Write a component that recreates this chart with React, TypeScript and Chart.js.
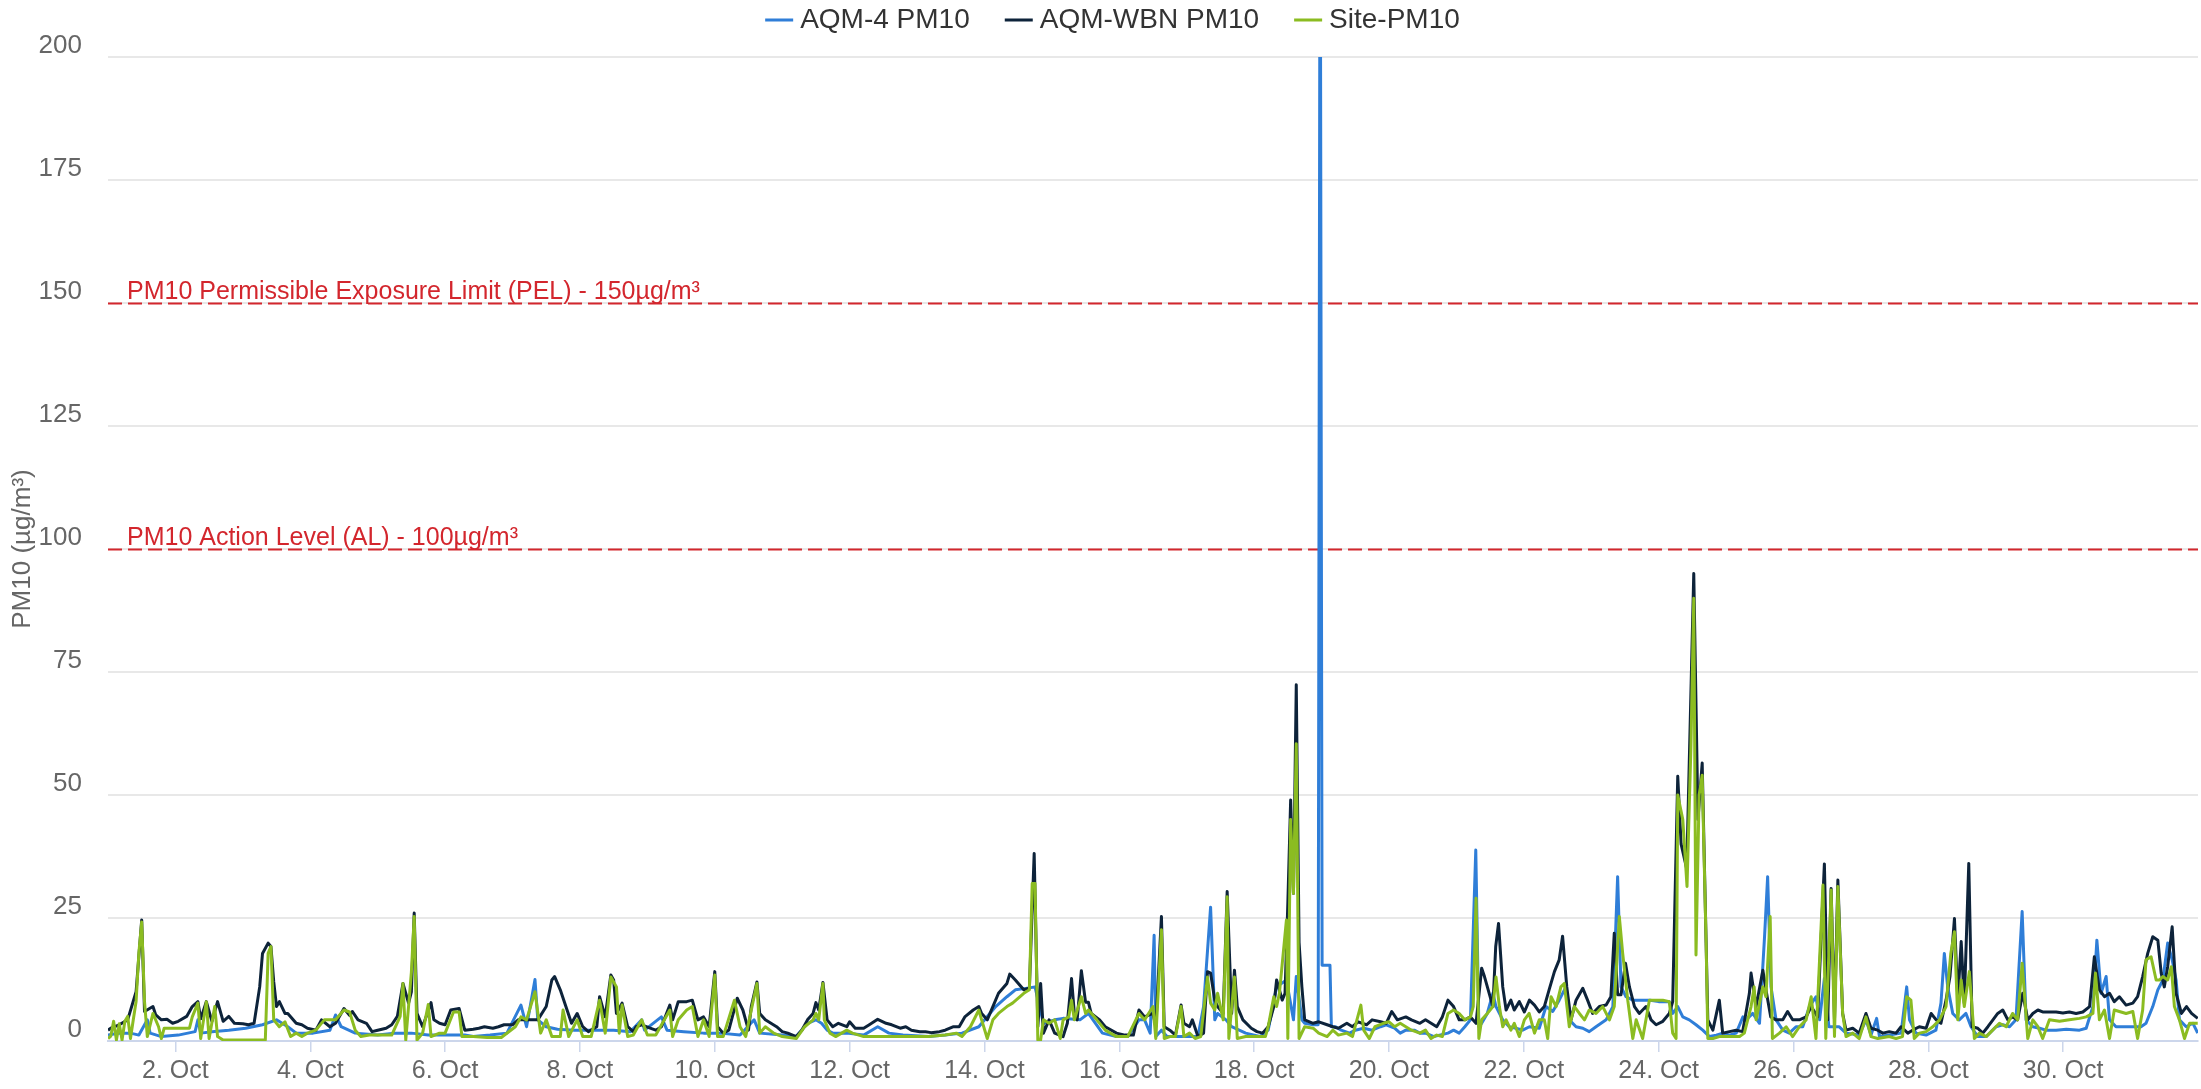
import React, { useEffect, useRef } from 'react';
import { Chart, registerables } from 'chart.js';

Chart.register(...registerables);

const seriesNames = ['AQM-4 PM10', 'AQM-WBN PM10', 'Site-PM10'];
const seriesColors = ['#2f7ed8', '#0d233a', '#8bbc21'];

// [hour since 1 Oct 00:00, PM10 µg/m³]
const aqm4Points: [number, number][] = [
  [0,1.2],[4,1.6],[8,1.6],[11,1.2],[14,4.3],[15,1.6],[19,0.9],[25,1.2],[31,1.9],[32,4.3],[33,1.6],[37,1.9],[43,2.2],[49,2.6],[55,3.3],[60,4.3],[64,2.9],[67,1.6],[73,1.6],[79,2.2],[81,5.3],[83,2.9],[88,1.6],[96,1.2],[102,1.6],[108,1.6],[114,1.2],
  [120,1.2],[127,1.2],[130,0.9],[136,1.2],[142,1.6],[147,7.3],[149,2.9],[152,12.5],[153,4.3],[156,2.9],[160,2.4],[166,2.2],[172,2.2],[180,2.2],[186,1.9],[190,4.3],[191,2.2],[197,4.9],[199,2.2],[205,1.9],[212,1.6],[218,1.6],[225,1.2],[230,4.3],[232,1.6],[240,1.2],
  [245,0.9],[249,3.6],[252,4.3],[254,3.6],[256,2.2],[258,1.6],[263,1.6],[269,1.2],[274,2.9],[278,1.6],[283,1.2],[292,0.9],[298,1.2],[304,1.6],[310,2.9],[316,7],[320,9],[323,10.4],[328,10.8],[330,11],[333,3.6],[337,4.3],[340,4.6],[346,4.3],[349,5.6],[354,1.6],[359,0.9],[363,0.9],[367,4.3],
  [369,4.3],[371,1.6],[372.4,21.5],[373,0.9],[375,2.2],[377,0.9],[381,0.9],[385,0.9],[388,0.9],[390,7],[392.5,27.2],[394,4.3],[395,5.6],[398,4.3],[400,2.9],[405,1.6],[410,0.9],[413,2.2],[416,11],[419.5,12.4],[422,4.3],[423,13.1],[425,4.3],[426,3.6],[429,3.3],[430.8,3.3],[431.5,250],[432.2,15.4],[435,15.4],[435.5,2.9],[437,2.9],[439,2.2],[442,1.6],[444,2.2],[447,2.6],[450,2.2],[453,2.9],[455,3.3],[458,2.6],[460,1.6],[462,2.2],[465,2.2],[467,1.6],[469,1.6],[472,0.9],[474,1.2],[477,1.6],[479,2.2],[481,1.6],[483,2.9],[485,4.3],[486.9,38.8],[488,2.9],[489,3.6],[491,5.6],[493,9.7],
  [494.1,7],[496.5,4.3],[498.8,2.9],[501.2,2.6],[503.6,2.2],[506,2.9],[509.5,2.6],[511.9,7],[514.3,6],[516.6,8.3],[519,11],[520.2,4.3],[522.6,2.9],[525,2.6],[527.3,1.9],[529.7,2.9],[533.3,4.3],[535.7,7],[537.4,33.4],[538.6,11],[540.4,9],[542.8,8.3],[546.3,8.3],[549,8.3],[552,8],[555.8,8],[557,5.6],[558.8,7],[560.6,4.9],[562.9,4.3],[565.3,3.3],[567.7,2.2],[570.1,0.9],[572.5,1.2],[574.8,1.6],[577.2,1.2],[579.6,1.6],[582,4.9],[583.1,4.3],[585.5,5.6],[587.9,3.6],[589.7,21.2],[590.8,33.4],[592,11],[593.8,4.3],[596.2,2.2],[598.5,1.6],[600.9,2.9],[603.3,2.9],[605.7,7],[608,9],[609.3,4.3],[611,12.7],[612.6,2.9],[616.2,2.9],
  [618.7,1.6],[623.4,1.2],[625.8,4.3],[627.6,1.2],[629.6,4.6],[630.6,0.9],[634.1,1.2],[638.3,1.6],[640.3,11],[641.3,4.3],[643.6,1.6],[647.2,1.2],[650.7,2.2],[652.5,7.7],[653.7,17.8],[654.9,11],[656.7,5.6],[659,4.3],[661.4,5.6],[663.2,2.9],[665.6,0.9],[668.6,0.9],[672.1,2.9],[674.5,3.3],[676.9,2.9],[679.2,4.3],[681.4,26.3],[682.8,4.3],[685.2,2.9],[687.6,2.6],[689.9,2.2],[693.5,2.2],[697.1,2.4],[701.8,2.2],[704.2,2.6],[706.6,7],[708,20.5],[709.5,9.7],[711.3,13.1],[712.5,4.3],[714.8,2.9],[719.6,2.9],[723.7,2.9],[725.5,3.6],[727.9,7],[729.7,10.4],[731.5,12.4],[733.2,19.9],[734.8,16.5],[736.2,12.4],[737.4,4.3],[739.8,2.9],[742.2,3.6],[743.9,1.6],
];

const wbnPoints: [number, number][] = [
  [0,2.2],[1,2.6],[4,3.3],[7,4.3],[10,10],[12,24.6],[13,6],[16,7],[17,5.3],[19,4.3],[21,4.4],[23,3.6],[25,4],[28,5],[30,7],[32,8],[33,4.5],[35,8],[37,4],[39,8],[41,4],[43,5],[45,3.6],[48,3.5],[50,3.3],[52,3.6],[54,11],[55,17.8],[57,19.9],[58,19.2],[59,12],[60,7],[61,8],[63,5.6],[64,5.6],[67,3.6],[69,3.3],[71,2.6],[74,2.2],[76,4.3],[79,2.9],[81,3.6],[84,6.6],[86,5.2],[87,6],[89,4.3],[92,3.6],[94,1.9],[96,2.2],[99,2.6],[101,3.3],[103,5],[105,11.7],[107,7.7],[108,10],[109,26],[110,5.6],[112,2.9],[115,7.8],[116,4.3],[118,3.6],
  [120,3.3],[122,6.3],[125,6.6],[127,2.2],[130,2.4],[132,2.6],[134,2.9],[137,2.6],[139,2.9],[141,3.3],[144,3.3],[146,4.3],[149,4.3],[151,4.3],[153,4.3],[156,7],[158,12.4],[159,13.1],[161,10.4],[163,7],[165,3.6],[167,5.6],[169,2.9],[171,1.9],[174,2.9],[175,9],[177,4.9],[179,13.4],[180,12.4],[181,5.6],[183,7.7],[185,2.9],[187,1.9],[188,2.9],[190,3.3],[193,2.6],[195,2.2],[197,2.9],[200,7.3],[201,4.3],[203,8],[206,8],[208,8.3],[210,4.3],[212,4.9],[214,2.9],[216,14.1],[217,2.9],[219,1.6],[221,2.2],[224,8.7],[226,6.3],[228,2.2],[229,7],[231,12],[232,5.6],[234,4.3],[238,2.9],[240,1.9],[242,1.6],
  [245,0.9],[247,2.2],[249,4.3],[251,5.6],[252,7.8],[253,6.3],[254.5,11.9],[256,4.3],[258,2.9],[260,3.6],[263,2.9],[264,3.9],[266,2.6],[269,2.6],[271,3.3],[274,4.4],[277,3.6],[279,3.3],[282,2.6],[284,2.9],[286,2.2],[289,1.9],[291,1.9],[293,1.7],[296,1.9],[298,2.2],[301,2.9],[303,2.9],[305,4.9],[308,6.3],[310,7],[311,5.6],[313,4.3],[315,7],[317,9.7],[320,11.7],[321,13.6],[323,12.4],[326,10.4],[328,10.8],[329.7,38.1],[331,2.9],[332,11.7],[333,1.6],[335,4.3],[337,1.6],[340,0.9],[341.5,3.6],[343,12.7],[344,5.6],[345,4.3],[346.5,14.3],[348,7.9],[349,7.9],[350,5.6],[353,4.3],[355,2.9],[359,1.6],[362,1.2],[365,1.2],[367,6.3],
  [369,4.9],[372,5.6],[373,2.9],[375,25.3],[376,2.9],[378,2.2],[380,1.2],[382,7.3],[383,3.6],[385,2.9],[386,4.3],[388,0.9],[390,1.6],[391.4,14.1],[392.5,13.8],[394,8.3],[395,7],[397,5.6],[398.4,30.4],[400,5.6],[401,14.4],[402,7],[404,4.3],[407,2.6],[409,1.9],[411,1.6],[413,2.9],[415,7],[416,12.4],[418,8.3],[419,9.7],[420,28],[421,49],[422,30],[423,72.4],[424,20],[425,11],[426,4.3],[429,3.6],[431,3.9],[434,3.3],[436,2.9],[438,2.6],[441,3.6],[443,2.9],[445,3.9],[448,3.3],[450,4.3],[453,3.9],[455,3.6],[457,6],[459,4.3],[462,4.9],[464,4.3],[467,3.6],[469,4.3],[471,3.6],[473,2.9],[475,4.9],[477,8.3],[479,7],[481,4.3],[483,4.3],[485,4.9],[487,3.6],[489,14.8],[490,13.1],[493,7],[494,19.2],[495,23.9],
  [496.5,11],[497.7,6.3],[499.4,8.3],[500.6,6.3],[502.4,8],[504.2,5.9],[506,8.3],[507.8,7.3],[509.5,5.9],[511.3,7],[513,10.4],[514.9,14.1],[516.6,16.5],[517.8,21.3],[519.3,11],[520.8,4.3],[522.6,8.3],[525,10.7],[526.7,8.3],[528.5,5.6],[530.9,7],[533.3,7.3],[535,9],[536.2,21.9],[537.4,9.4],[538.6,9.4],[540.2,15.8],[541.6,11],[543.4,7],[545.1,5.6],[547.5,7],[549.3,4.3],[551.1,3.3],[553.5,4],[555.8,5.6],[557,8],[558.8,53.8],[560,40],[562,35],[564.5,95],[566,45],[567.5,56.5],[568.9,20],[569.5,4.3],[571.3,2.2],[573.6,8.3],[574.8,1.6],[577.2,1.9],[579.6,2.2],[581.9,1.9],[584.3,9.7],[584.9,13.8],[586.7,7],[589.1,14.4],[590.2,10.4],[591.9,4.9],[593.8,4.3],[596.2,4.3],[597.9,6],[599.7,4.3],[602.1,4.3],[604.5,4.9],[606.3,7],[608.6,4.9],[611,36],[612.2,4.3],[613.4,31],[614.6,4.3],[615.8,32.7],[617.5,5.6],
  [618.7,2.2],[621.1,2.6],[623.4,1.6],[625.8,5.6],[627.6,2.6],[630,2.2],[631.8,1.6],[634.1,1.9],[636.5,1.6],[638.3,2.9],[640.7,1.6],[642.4,2.2],[644.8,2.9],[647.2,2.6],[649,5.6],[650.8,4.3],[652.5,3.6],[654.3,8.3],[655.7,13.1],[657.3,24.9],[658.5,8.3],[659.7,20.2],[660.8,7.7],[662.4,36.1],[663.6,2.9],[665.6,2.6],[667.4,1.6],[669.2,2.9],[671,4.3],[672.7,5.6],[674.5,6.3],[676.3,4.3],[678,4.9],[679.8,4.3],[681.6,9.7],[683.4,4.3],[685.2,5.6],[687,6.3],[688.7,5.9],[691.1,5.9],[693.5,5.9],[695.9,5.7],[698.2,5.9],[700.6,5.6],[703,5.9],[705.4,7],[707.1,17.1],[708.9,10.4],[710.7,9],[712.5,9.7],[714.2,8],[716,9],[718.4,7.3],[720.8,7.7],[722.5,9],[724.3,13.1],[726.1,17.8],[727.9,21.2],[729.7,20.5],[730.9,13.8],[732,11],[733.2,15.1],[734.8,23.2],[736.2,9.7],[738.1,5.6],[739.9,7],[741.7,5.6],[743.9,4.6],
];

const sitePoints: [number, number][] = [
  [0,0.5],[1,1],[2,4],[3,0.2],[4,3.5],[5,0.2],[6,4],[7,5],[8,0.5],[9,4.3],[10,8],[11,18],[12,24.2],[13,8],[14,0.9],[16,5.6],[18,2.9],[19,0.5],[20,2.6],[23,2.6],[26,2.6],[29,2.6],[30,4.9],[32,7.7],[33,0.5],[35,8],[36,0.5],[38,7],[39,0.9],[41,0.2],[45,0.2],[50,0.2],[56,0.2],[57,17.8],[58,19.2],[59,4.3],[61,2.9],[63,3.9],[65,0.9],[67,1.6],[69,0.9],[71,1.6],[74,2.2],[77,4.3],[81,4.3],[84,6.3],[86,5.9],[88,2.2],[90,0.9],[93,1.2],[97,1.2],[101,1.2],[104,5],[105,11.7],[106,0.2],[108,14],[109,25.3],[110,0.2],[112,1.6],[114,7.4],[115,0.9],[118,1.6],
  [120,1.6],[123,5.9],[125,5.9],[126,0.9],[130,0.9],[135,0.7],[140,0.7],[145,2.9],[147,4.9],[149,4.3],[152,10],[154,1.6],[156,4.3],[158,0.9],[161,0.9],[162,6.3],[164,0.9],[167,4.3],[169,0.9],[172,0.9],[175,8.3],[177,1.6],[179,13],[181,11],[182,1.6],[183,7.3],[185,0.9],[187,1.2],[190,4.3],[192,1.2],[195,1.2],[200,6.3],[201,0.9],[203,4.3],[206,6.3],[208,7],[210,0.9],[212,4.3],[214,0.9],[216,13.4],[217,0.9],[219,0.9],[223,8.3],[225,2.9],[227,0.9],[231,11.7],[232,1.6],[234,2.9],[237,1.6],[240,0.9],
  [245,0.5],[248,2.9],[251,4.3],[252,5.6],[253,4.3],[254.5,11.7],[255,4.3],[257,1.6],[259,0.9],[263,2.2],[265,1.6],[269,0.9],[275,0.9],[281,0.9],[286,0.9],[292,0.9],[298,1.2],[302,1.6],[304,0.9],[307,2.9],[310,6.3],[311,4.3],[313,0.5],[315,4.3],[317,5.6],[320,7],[322,7.7],[326,9.7],[328,10.4],[329,32],[330,32],[331,0.2],[332,0.2],[333,4.3],[335,3.6],[337,4.3],[339,0.5],[340,4.3],[342,4.9],[343,8.3],[344,4.3],[346.5,9],[348,5.6],[349,6.3],[352,4.3],[355,2.2],[359,0.9],[363,0.9],[367,5.6],
  [369,4.3],[372,7],[373,0.5],[375,22.6],[376,0.5],[378,0.9],[380,0.9],[382,7],[383,0.9],[385,1.6],[387,0.5],[389,0.9],[391.4,13],[392.5,7.7],[394,6.3],[395,9.7],[397,4.3],[398.4,29.3],[399,0.5],[401,13],[402,0.5],[405,0.9],[409,0.9],[412,0.9],[413,2.9],[415,9],[416,7],[417,9.7],[419.5,24.6],[420,0.5],[421,45],[422,30],[423,60.4],[424,0.5],[426,2.9],[429,2.6],[431,1.6],[434,0.9],[436,2.2],[438,1.2],[441,1.6],[443,0.9],[446,7.3],[447,2.2],[449,0.5],[451,2.9],[454,3.6],[456,3.9],[458,2.9],[460,3.6],[462,2.9],[464,2.2],[467,1.6],[469,2.2],[471,0.5],[473,1.2],[475,0.9],[477,5.6],[479,6.3],[481,5.6],[483,4.3],[485,4.9],[486,7],[487,29],[488,0.5],[489,4.3],[491,5.6],[493,7],
  [494.1,13],[495.3,7],[496.5,2.9],[497.7,4.3],[499.4,2.2],[500.6,3.6],[502.4,0.9],[504.2,4.3],[505.9,5.6],[507.8,1.6],[509.5,4.3],[511.3,4.3],[512.5,0.5],[513.7,9],[515.5,7],[517.2,11],[518.4,11.7],[520.2,2.9],[522,7],[523.8,5.6],[525.6,4.3],[527.3,6.3],[529.7,5.6],[532.1,7],[534.5,4.3],[536.2,7],[538,25.3],[539.2,17.8],[541,8.3],[542.8,0.5],[544,4.3],[546.3,0.5],[548.7,8.3],[551.1,8.3],[553.5,8.3],[555.8,8],[557,1.6],[558.2,0.5],[558.8,50],[560.6,45],[562.1,31.4],[563.5,60],[564.5,90],[565.3,17.5],[566.4,50],[567.5,54],[568.9,20],[569.5,0.5],[571.3,0.5],[573.6,0.9],[576,0.9],[578.4,0.9],[580.8,0.9],[582.5,1.6],[584.9,7],[586,11],[586.7,4.3],[589.1,11],[590.2,9],[591.7,25.3],[592.5,0.5],[595,1.6],[597.4,2.9],[599.7,0.9],[602.1,2.9],[604.5,4.3],[606.3,9],[608,0.5],[610.5,31.7],[611.5,0.5],[613.4,30.7],[614.6,0.9],[615.8,31.4],[617.5,5.6],
  [618.7,0.9],[621.1,1.6],[623.4,0.5],[625.8,4.9],[627.6,0.9],[630,0.5],[634.1,0.9],[636.5,0.5],[638.8,0.9],[640.3,9],[641.8,8.3],[643,0.5],[644.8,1.6],[647.2,1.9],[649.6,2.9],[652,4.3],[654.3,7],[656,17.8],[657.3,22.2],[658.5,4.3],[659.7,12.4],[660.8,7],[662.6,14.1],[664.4,0.5],[666.2,1.6],[668.6,0.9],[670.9,2.2],[673.3,3.6],[675.7,2.9],[678,5.6],[679.8,4.3],[681.4,15.8],[683.4,0.5],[685.2,4.3],[687,2.9],[688.7,0.5],[691.1,4.3],[694.7,4],[698.2,4.3],[701.8,4.6],[704.2,4.9],[706.6,5.6],[707.5,13.8],[708.9,4.3],[710.7,6.3],[712.5,0.5],[714.2,6.3],[716,6],[718.4,5.6],[720.8,6],[722.5,0.5],[724.3,6.3],[725.5,16.5],[727.3,17.1],[729.1,12.4],[730.3,12.4],[731.5,13.1],[733.2,12.4],[734.5,15.1],[735.6,7],[737.4,4.3],[739.2,0.5],[741,3.6],[743.9,3.6],
];

const xTickHours = [24, 72, 120, 168, 216, 264, 312, 360, 408, 456, 504, 552, 600, 648, 696];
const xTickLabels = ['2. Oct', '4. Oct', '6. Oct', '8. Oct', '10. Oct', '12. Oct', '14. Oct', '16. Oct', '18. Oct', '20. Oct', '22. Oct', '24. Oct', '26. Oct', '28. Oct', '30. Oct'];
const xRange = [0, 744];
const yRange = [0, 200];
const yStep = 25;
const yTitle = 'PM10 (µg/m³)';
const limitValues = [150, 100];
const limitLabels = ['PM10 Permissible Exposure Limit (PEL) - 150µg/m³', 'PM10 Action Level (AL) - 100µg/m³'];

const FONT = '"Liberation Sans", Arial, Helvetica, sans-serif';
const LIMIT_COLOR = '#d3262d';

const limitPlugin = {
  id: 'limitLines',
  beforeDatasetsDraw(chart: any) {
    const { ctx, chartArea } = chart;
    const yScale = chart.scales.y;
    ctx.save();
    limitValues.forEach((v, i) => {
      const y = Math.round(yScale.getPixelForValue(v)) + 0.5;
      ctx.strokeStyle = LIMIT_COLOR;
      ctx.lineWidth = 2;
      ctx.setLineDash([14, 6]);
      ctx.beginPath();
      ctx.moveTo(chartArea.left, y);
      ctx.lineTo(chartArea.right, y);
      ctx.stroke();
      ctx.setLineDash([]);
      ctx.fillStyle = LIMIT_COLOR;
      ctx.font = `25px ${FONT}`;
      ctx.textBaseline = 'alphabetic';
      ctx.textAlign = 'left';
      ctx.fillText(limitLabels[i], chartArea.left + 19, y - 5);
    });
    ctx.restore();
  },
};

const legendPlugin = {
  id: 'topLegend',
  afterDraw(chart: any) {
    const { ctx } = chart;
    ctx.save();
    ctx.font = `28px ${FONT}`;
    const markerW = 28;
    const gapText = 7;
    const gapItem = 35;
    const widths = seriesNames.map((n) => ctx.measureText(n).width);
    const total = widths.reduce((a, b) => a + b, 0) + seriesNames.length * (markerW + gapText) + (seriesNames.length - 1) * gapItem;
    let x = chart.width / 2 + 12 - total / 2;
    const y = 20;
    seriesNames.forEach((n, i) => {
      ctx.fillStyle = seriesColors[i];
      ctx.fillRect(x, y - 1.5, markerW, 3);
      x += markerW + gapText;
      ctx.fillStyle = '#333333';
      ctx.textBaseline = 'middle';
      ctx.textAlign = 'left';
      ctx.fillText(n, x, y);
      x += widths[i] + gapItem;
    });
    ctx.restore();
  },
};

export default function App() {
  const canvasRef = useRef<HTMLCanvasElement | null>(null);

  useEffect(() => {
    const canvas = canvasRef.current;
    if (!canvas) return;
    const allPoints = [aqm4Points, wbnPoints, sitePoints];
    const chart = new Chart(canvas, {
      type: 'line',
      data: {
        datasets: allPoints.map((pts, i) => ({
          label: seriesNames[i],
          data: pts.map(([x, y]) => ({ x, y })),
          borderColor: seriesColors[i],
          backgroundColor: seriesColors[i],
          borderWidth: 3,
          pointRadius: 0,
          pointHoverRadius: 0,
          tension: 0,
          fill: false,
          borderJoinStyle: 'round',
          order: 3 - i,
        })),
      },
      options: {
        responsive: false,
        animation: false,
        devicePixelRatio: 1,
        layout: { padding: { top: 57, right: 3, left: 0, bottom: 0 } },
        plugins: {
          legend: { display: false },
          tooltip: { enabled: false },
        },
        scales: {
          x: {
            type: 'linear',
            min: xRange[0],
            max: xRange[1],
            afterBuildTicks: (scale: any) => {
              scale.ticks = xTickHours.map((v) => ({ value: v }));
            },
            afterFit: (scale: any) => {
              scale.height = 48;
            },
            ticks: {
              autoSkip: false,
              maxRotation: 0,
              minRotation: 0,
              padding: 4,
              color: '#666666',
              font: { family: FONT, size: 25 },
              callback: (value: any) => {
                const idx = xTickHours.indexOf(Number(value));
                return idx >= 0 ? xTickLabels[idx] : '';
              },
            },
            grid: {
              display: true,
              drawOnChartArea: false,
              drawTicks: true,
              tickLength: 11,
              color: '#ccd6eb',
              lineWidth: 1.5,
            },
            border: { display: true, color: '#ccd6eb', width: 2 },
          },
          y: {
            type: 'linear',
            min: yRange[0],
            max: yRange[1],
            afterFit: (scale: any) => {
              scale.width = 108;
            },
            ticks: {
              stepSize: yStep,
              padding: 26,
              labelOffset: -11,
              color: '#666666',
              font: { family: FONT, size: 26 },
            },
            grid: {
              color: '#e8e8e8',
              lineWidth: 2,
              drawTicks: false,
            },
            border: { display: false },
            title: {
              display: true,
              text: yTitle,
              color: '#666666',
              font: { family: FONT, size: 26 },
              padding: { top: 7, bottom: 0 },
            },
          },
        },
      },
      plugins: [limitPlugin, legendPlugin],
    } as any);
    return () => chart.destroy();
  }, []);

  return (
    <div style={{ position: 'absolute', left: 0, top: 0, width: 2201, height: 1089, background: '#ffffff' }}>
      <canvas ref={canvasRef} width={2201} height={1089} style={{ display: 'block', width: 2201, height: 1089 }} />
    </div>
  );
}
